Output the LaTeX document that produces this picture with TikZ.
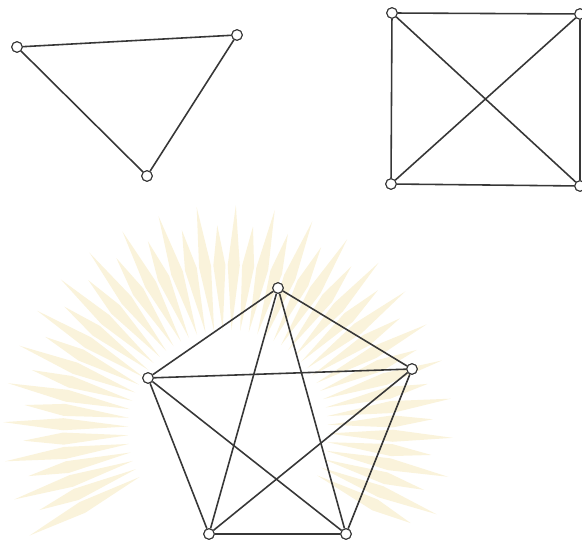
\documentclass[tikz,border=0pt]{standalone}
\usetikzlibrary{calc}
\definecolor{raygold}{RGB}{250,243,219}
\definecolor{edgegray}{RGB}{55,55,55}

\begin{document}
\begin{tikzpicture}[
  x=0.02cm, y=-0.02cm,
  vert/.style={draw=edgegray, circle, fill=white, inner sep=0pt, minimum size=2.1mm, line width=0.6pt},
  edge/.style={draw=edgegray, line width=0.9pt},
  ray/.style={fill=raygold}
]
\useasboundingbox (0,0) rectangle (582,546);

% faint sunburst behind the pentagon
\coordinate (sun) at (228,430);
\foreach \a [count=\i] in {152,157,...,388} {
  \pgfmathsetmacro{\r}{isodd(\i) ? 225 : 205}
  \fill[ray] ($(sun)+(\a:100)$) -- ($(sun)+(\a+2.1:165)$) -- ($(sun)+(\a:\r)$) -- ($(sun)+(\a-2.1:165)$) -- cycle;
}

% K3
\node[vert] (a1) at (17,47) {};
\node[vert] (a2) at (237,35) {};
\node[vert] (a3) at (147,176) {};
\draw[edge] (a1) -- (a2) -- (a3) -- (a1);

% K4
\node[vert] (b1) at (392,13) {};
\node[vert] (b2) at (580,14) {};
\node[vert] (b3) at (391,184) {};
\node[vert] (b4) at (580,186) {};
\draw[edge] (b1) -- (b2) -- (b4) -- (b3) -- (b1);
\draw[edge] (b1) -- (b4);
\draw[edge] (b2) -- (b3);

% K5
\node[vert] (c1) at (278,288) {};
\node[vert] (c2) at (148,378) {};
\node[vert] (c3) at (412,369) {};
\node[vert] (c4) at (209,534) {};
\node[vert] (c5) at (346,534) {};
\draw[edge] (c1) -- (c3) -- (c5) -- (c4) -- (c2) -- (c1);
\draw[edge] (c1) -- (c4);
\draw[edge] (c1) -- (c5);
\draw[edge] (c2) -- (c3);
\draw[edge] (c2) -- (c5);
\draw[edge] (c3) -- (c4);

% redraw vertices over the edges
\foreach \v in {a1,a2,a3,b1,b2,b3,b4,c1,c2,c3,c4,c5}
  \node[vert] at (\v) {};
\end{tikzpicture}
\end{document}
